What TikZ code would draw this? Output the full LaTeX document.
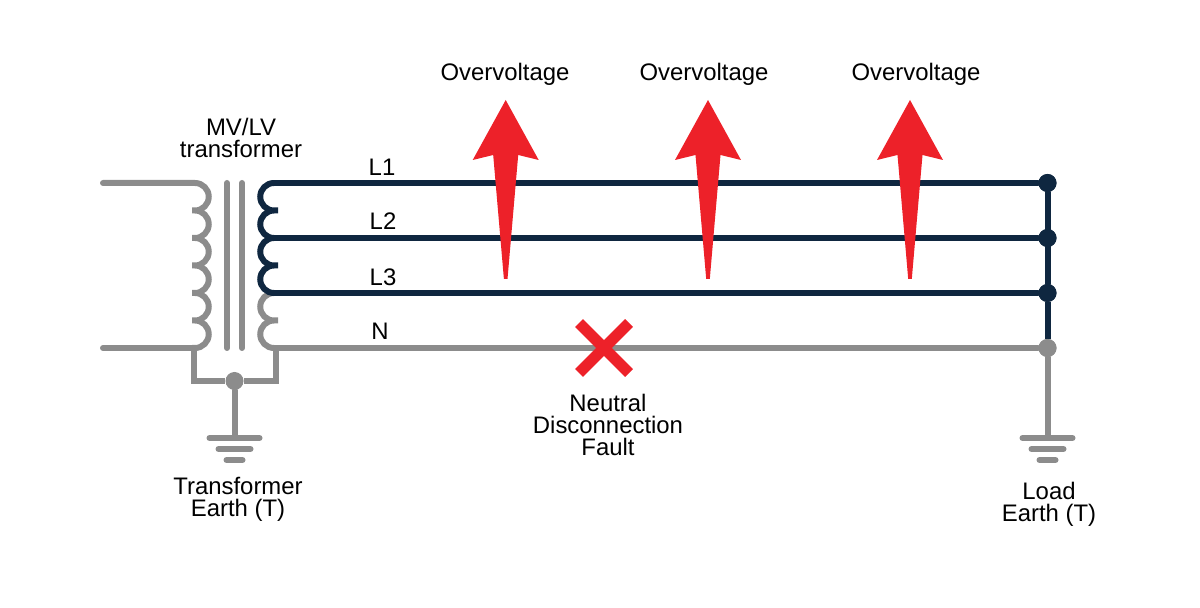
\documentclass[tikz,border=0pt]{standalone}
\usepackage{fontspec}
\setmainfont{Liberation Sans}
\usepackage{tikz}
\definecolor{wiregrey}{HTML}{8C8C8C}
\definecolor{wirenavy}{HTML}{0F2740}
\definecolor{faultred}{HTML}{ED2129}
\begin{document}
\begin{tikzpicture}[x=0.5 pt, y=-0.5 pt]
\tikzstyle{label} = [align=center, inner sep=0 pt, font=\fontsize{11.95}{11}\selectfont]
\tikzstyle{grey} = [draw=wiregrey, line width=3 pt, line cap=round]
\tikzstyle{navy} = [draw=wirenavy, line width=3 pt, line cap=round]
\tikzstyle{gnd} = [draw=wiregrey, line width=3 pt, line cap=round]
\tikzstyle{greydot} = [circle, fill=wiregrey, minimum size=9 pt, inner sep=0 pt]
\tikzstyle{navydot} = [circle, fill=wirenavy, minimum size=9 pt, inner sep=0 pt]
\tikzstyle{surge} = [fill=faultred]
\useasboundingbox (0,0) rectangle (1200,608);

\coordinate (inA) at (103,183);
\coordinate (inB) at (103,348);
\coordinate (priA) at (195,183);
\coordinate (priB) at (195,348);
\coordinate (secA) at (274,183);
\coordinate (secB) at (274,238);
\coordinate (secC) at (274,293);
\coordinate (secN) at (274,348);
\coordinate (coreAt) at (227,183);
\coordinate (coreAb) at (227,348);
\coordinate (coreBt) at (242,183);
\coordinate (coreBb) at (242,348);
\coordinate (tieL) at (193.5,348);
\coordinate (tieR) at (275.7,348);
\coordinate (gndT) at (234.5,438);
\coordinate (gndL) at (1047.5,438);

\node (star) [greydot] at (234.5,381) {};
\node (busA) [navydot] at (1047.5,183) {};
\node (busB) [navydot] at (1047.5,238) {};
\node (busC) [navydot] at (1047.5,293) {};
\node (busN) [greydot] at (1047.5,348) {};

% primary winding
\draw [grey] (inA) -- (priA) \foreach \i in {1,...,6} {arc (-90:90:13.75) -- ++(-3,0) -- ++(3,0)} ;
\draw [grey] (inB) -- (priB);
% core
\draw [grey] (coreAt) -- (coreAb);
\draw [grey] (coreBt) -- (coreBb);
% secondary winding
\draw [grey] (secC) arc (270:90:13.75) -- ++(4,0) -- ++(-4,0) arc (270:90:13.75);
\draw [navy] (secA) arc (270:90:13.75) -- ++(4,0) -- ++(-4,0) arc (270:90:13.75);
\draw [navy] (secB) arc (270:90:13.75) -- ++(4,0) -- ++(-4,0) arc (270:90:13.75);
% lines
\draw [grey] (secN) -- (busN);
\draw [navy] (busA) -- (busC);
\draw [navy, line cap=butt] (busC) -- (busN);
\draw [navy] (secA) -- (busA);
\draw [navy] (secB) -- (busB);
\draw [navy] (secC) -- (busC);
\node [navydot] at (busA) {};
\node [navydot] at (busB) {};
\node [navydot] at (busC) {};
\node [greydot] at (busN) {};
% earth
\draw [grey, line cap=butt] (tieL) |- (star) -| (tieR);
\draw [grey] (star) -- (gndT);
\draw [grey] (busN) -- (gndL);
\draw [gnd] (gndT) ++(-25,0) -- ++(50,0);
\draw [gnd] (gndT) ++(-16,11) -- ++(32,0);
\draw [gnd] (gndT) ++(-8,22) -- ++(16,0);
\draw [gnd] (gndL) ++(-25,0) -- ++(50,0);
\draw [gnd] (gndL) ++(-16,11) -- ++(32,0);
\draw [gnd] (gndL) ++(-8,22) -- ++(16,0);
% overvoltage arrows
\foreach \x in {505.7,708,910} {
  \fill [surge] (\x,100) -- ++(33,60) -- ++(-20.5,-5) -- ++(-10.7,124) -- ++(-3.6,0) -- ++(-10.7,-124) -- ++(-20.5,5) -- cycle;
}
% fault cross
\coordinate (crossA) at (579,323);
\coordinate (crossB) at (629,373);
\coordinate (crossC) at (629,323);
\coordinate (crossD) at (579,373);
\draw [draw=faultred, line width=5.6 pt] (crossA) -- (crossB);
\draw [draw=faultred, line width=5.6 pt] (crossC) -- (crossD);
% labels
\node (ovA) [label] at (505,74) {Overvoltage};
\node (ovB) [label] at (704,74) {Overvoltage};
\node (ovC) [label] at (916,74) {Overvoltage};
\node (mvlv) [label] at (241,138) {MV/LV\\transformer};
\node (nameA) [label] at (382,167) {L1};
\node (nameB) [label] at (383,221) {L2};
\node (nameC) [label] at (383,277) {L3};
\node (nameN) [label] at (380,331) {N};
\node (fault) [label] at (608,425) {Neutral\\Disconnection\\Fault};
\node (earthT) [label] at (238,499) {Transformer\\Earth (T)};
\node (earthL) [label] at (1049,504) {Load\\Earth (T)};
\end{tikzpicture}
\end{document}
